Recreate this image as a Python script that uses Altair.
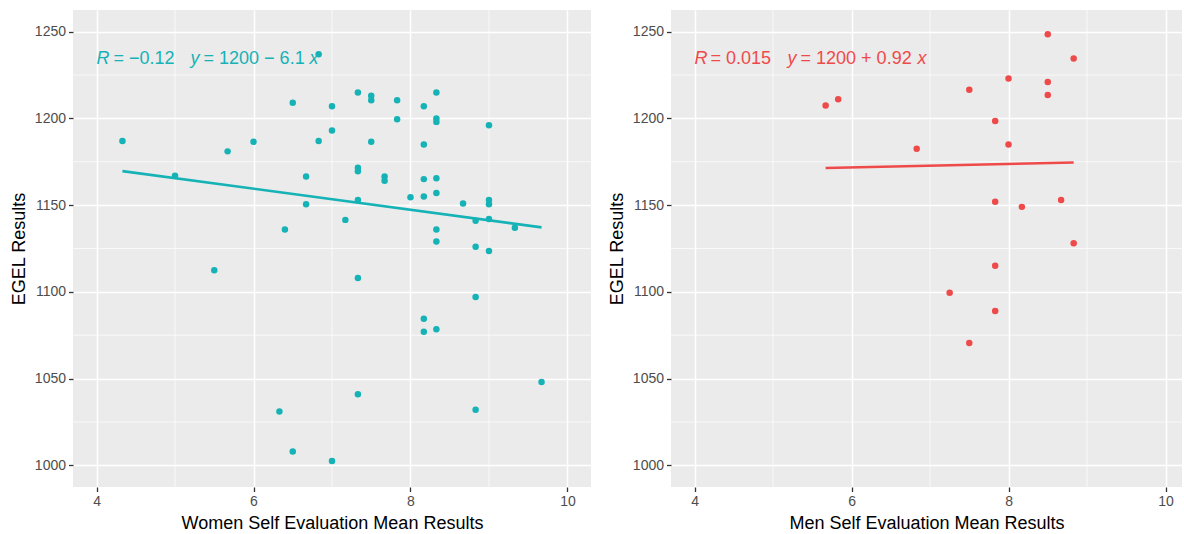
import altair as alt
import pandas as pd

# Women: self-evaluation mean vs EGEL score
women_score = [4.33, 5.0, 5.5, 5.67, 6.0, 6.33, 6.4, 6.5, 6.5, 6.67, 6.67, 6.83, 6.83,
               7.0, 7.0, 7.0, 7.17, 7.33, 7.33, 7.33, 7.33, 7.33, 7.33, 7.5, 7.5, 7.5,
               7.67, 7.67, 7.83, 7.83, 8.0, 8.17, 8.17, 8.17, 8.17, 8.17, 8.17,
               8.33, 8.33, 8.33, 8.33, 8.33, 8.33, 8.33, 8.33, 8.67, 8.83, 8.83, 8.83,
               8.83, 9.0, 9.0, 9.0, 9.0, 9.0, 9.33, 9.67]
women_egel = [1187, 1167, 1112.5, 1181, 1186.5, 1031, 1136, 1209, 1008, 1166.5, 1150.5, 1237, 1187,
              1207, 1193, 1002.5, 1141.5, 1215, 1171.5, 1169.5, 1153, 1108, 1041, 1213, 1210.5, 1186.5,
              1166.5, 1164, 1210.5, 1199.5, 1154.5, 1207, 1185, 1165, 1155, 1084.5, 1077,
              1215, 1200, 1198, 1165.5, 1157, 1136, 1129, 1078.5, 1151, 1141, 1126, 1097,
              1032, 1196, 1153, 1150.5, 1142, 1123.5, 1137, 1048]

# Men: self-evaluation mean vs EGEL score
men_score = [5.67, 5.83, 6.83, 7.25, 7.5, 7.5, 7.83, 7.83, 7.83, 7.83, 8.0, 8.0, 8.17,
             8.5, 8.5, 8.5, 8.67, 8.83, 8.83]
men_egel = [1207.5, 1211, 1182.5, 1099.5, 1216.5, 1070.5, 1198.5, 1152, 1115, 1089, 1223, 1185, 1149,
            1248.5, 1221, 1213.5, 1153, 1234.5, 1128]

x_ticks = [4, 6, 8, 10]
x_minor = [5, 7, 9]
y_ticks = [1000, 1050, 1100, 1150, 1200, 1250]
y_minor = [1025, 1075, 1125, 1175, 1225]

TEAL = "#15B2B6"
RED = "#EF4A4A"
FONT = "Liberation Sans"
Y_DOMAIN = [987.5, 1262.5]
LABEL_AT = (4, 1231.5)


def panel(scores, egel, color, x_title, x_domain, width, segments):
    df = pd.DataFrame({"score": scores, "egel": egel})
    xs = alt.Scale(domain=x_domain, nice=False, zero=False)
    ys = alt.Scale(domain=Y_DOMAIN, nice=False, zero=False)
    x_enc = alt.X("score:Q", scale=xs, title=x_title,
                  axis=alt.Axis(values=x_ticks, format="d"))
    y_enc = alt.Y("egel:Q", scale=ys, title="EGEL Results",
                  axis=alt.Axis(values=y_ticks, format="d"))

    minor_v = alt.Chart(pd.DataFrame({"score": x_minor})).mark_rule(
        color="white", strokeWidth=0.7).encode(x=x_enc)
    minor_h = alt.Chart(pd.DataFrame({"egel": y_minor})).mark_rule(
        color="white", strokeWidth=0.7).encode(y=y_enc)

    pts = alt.Chart(df).mark_circle(size=42, color=color, opacity=1).encode(x=x_enc, y=y_enc)
    fit = alt.Chart(df).transform_regression("score", "egel").mark_line(
        color=color, strokeWidth=2.6).encode(x=x_enc, y=y_enc)

    label_df = pd.DataFrame({"score": [LABEL_AT[0]], "egel": [LABEL_AT[1]]})
    labels = []
    for txt, italic, dx in segments:
        labels.append(
            alt.Chart(label_df).mark_text(
                text=txt, align="left", baseline="alphabetic", dx=dx,
                font=FONT, fontSize=18, color=color,
                fontStyle="italic" if italic else "normal",
            ).encode(x=x_enc, y=y_enc)
        )

    return alt.layer(minor_v, minor_h, pts, fit, *labels).properties(width=width, height=477)


women = panel(
    women_score, women_egel, TEAL, "Women Self Evaluation Mean Results", [3.7, 10.3], 518,
    [("R", True, 0), ("= \u22120.12", False, 17), ("y", True, 94),
     ("= 1200 \u2212 6.1", False, 107), ("x", True, 213)],
)
men = panel(
    men_score, men_egel, RED, "Men Self Evaluation Mean Results", [3.7, 10.21], 511,
    [("R", True, 0), ("= 0.015", False, 16), ("y", True, 93),
     ("= 1200 + 0.92", False, 106), ("x", True, 223)],
)

chart = alt.hconcat(women, men, spacing=16).properties(
    padding={"left": 10, "top": 9, "right": 0, "bottom": 0},
    background="white",
).configure_view(
    fill="#EBEBEB", strokeWidth=0
).configure_axis(
    labelFont=FONT, labelFontSize=14, labelColor="#4D4D4D", labelPadding=3,
    tickColor="#333333", tickSize=4.5, tickWidth=1.3, domain=False,
    gridColor="white", gridWidth=1.5, gridOpacity=1,
    titleFont=FONT, titleFontSize=18, titleFontWeight="normal", titleColor="black",
    titlePadding=6,
)

chart.save("out.html", embed_options={"renderer": "svg", "actions": False})
